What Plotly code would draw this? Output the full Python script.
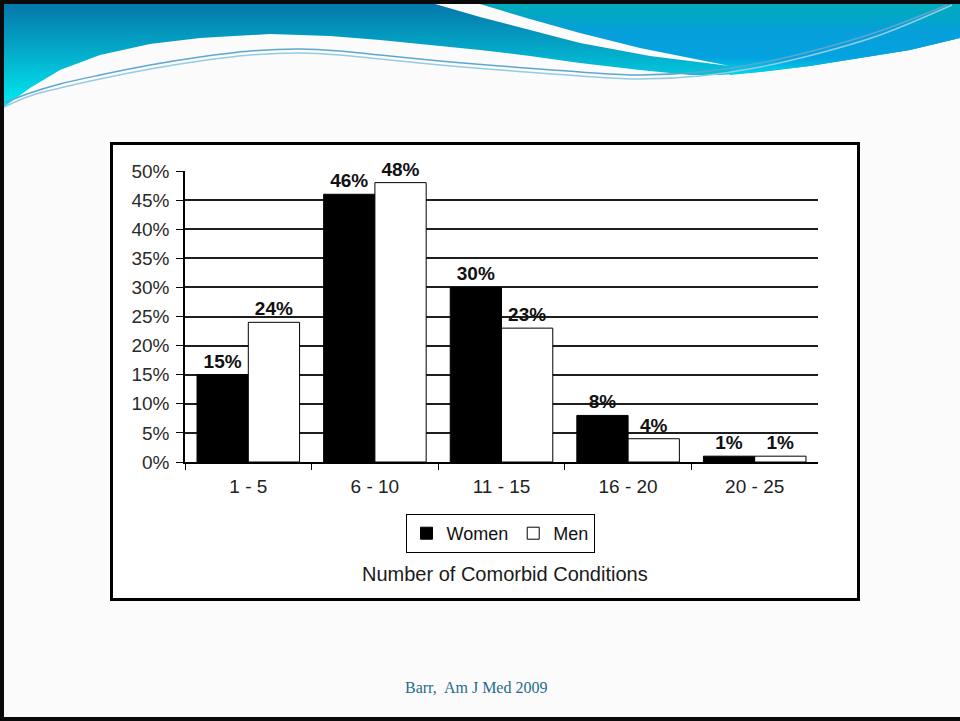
import plotly.graph_objects as go

# ---- data ----
categories = ["1 - 5", "6 - 10", "11 - 15", "16 - 20", "20 - 25"]
women = [15, 46, 30, 8, 1]
men = [24, 48, 23, 4, 1]
y_ticks = [0, 5, 10, 15, 20, 25, 30, 35, 40, 45, 50]
y_tick_text = [f"{v}%" for v in y_ticks]

W, H = 960, 721
FONT = "Liberation Sans, Arial, sans-serif"


def px(x):
    return x / W


def py(y):
    return 1 - y / H


fig = go.Figure()

# ---- bars ----
for name, vals, fill in (("Women", women, "#000000"), ("Men", men, "#ffffff")):
    fig.add_trace(go.Bar(
        name=name, x=categories, y=vals,
        marker=dict(color=fill, line=dict(color="#000000", width=1)),
        text=[f"{v}%" for v in vals], textposition="outside", cliponaxis=False,
        textfont=dict(family=FONT, size=19, color="#111111", weight="bold"),
        constraintext="none",
    ))

# ---- slide banner (drawn on a hidden full-page pixel axis) ----
bottom_curve = [(960, 38), (910, 50), (860, 58), (810, 66), (760, 72), (720, 75),
                (690, 75), (640, 70), (580, 63), (530, 56), (480, 50), (430, 45),
                (380, 40), (330, 36), (270, 34), (200, 38), (150, 44), (100, 55),
                (60, 70), (30, 88), (4, 107)]
banner = [(4, 4), (960, 4)] + bottom_curve
fig.add_trace(go.Scatter(
    x=[p[0] for p in banner], y=[p[1] for p in banner],
    xaxis="x2", yaxis="y2", mode="lines", fill="toself", line=dict(width=0),
    fillgradient=dict(type="vertical", start=4, stop=107,
                      colorscale=[[0, "#0577aa"], [0.45, "#03a9c9"], [1, "#00ecf2"]]),
    hoverinfo="skip", showlegend=False,
))

right_band = [(480, 4), (530, 19), (580, 33), (640, 48), (700, 60), (730, 66),
              (730, 75), (760, 72), (810, 66), (860, 58), (910, 50), (960, 38), (960, 4)]
fig.add_trace(go.Scatter(
    x=[p[0] for p in right_band], y=[p[1] for p in right_band],
    xaxis="x2", yaxis="y2", mode="lines", fill="toself", line=dict(width=0),
    fillgradient=dict(type="vertical", start=4, stop=76,
                      colorscale=[[0, "#00abb8"], [0.4, "#069fdc"], [0.75, "#03a3e0"],
                                  [1, "#00dbe8"]]),
    hoverinfo="skip", showlegend=False,
))

stripe = [(435, 4), (480, 17), (530, 30), (580, 43), (650, 56), (730, 66),
          (700, 60), (640, 48), (580, 33), (530, 19), (480, 4)]
fig.add_trace(go.Scatter(
    x=[p[0] for p in stripe], y=[p[1] for p in stripe],
    xaxis="x2", yaxis="y2", mode="lines", fill="toself", fillcolor="#fbfbfb",
    line=dict(width=0), hoverinfo="skip", showlegend=False,
))

swoosh_upper = [(4, 103), (30, 93), (60, 84), (100, 75), (150, 65), (200, 57), (250, 51),
                (300, 49), (340, 51), (380, 55), (440, 61), (500, 66), (580, 72), (640, 75),
                (700, 72), (760, 63), (820, 49), (880, 31), (947, 5)]
swoosh_lower = [(4, 107), (30, 96), (60, 88), (100, 79), (150, 69), (200, 61), (250, 55),
                (300, 53), (340, 55), (380, 59), (440, 65), (500, 70), (580, 76), (640, 79),
                (700, 76), (760, 67), (820, 53), (880, 35), (952, 5)]
for pts, col in ((swoosh_upper, "#5fa6cf"), (swoosh_lower, "#95cbe3")):
    fig.add_trace(go.Scatter(
        x=[p[0] for p in pts], y=[p[1] for p in pts],
        xaxis="x2", yaxis="y2", mode="lines", line=dict(color=col, width=1.4, shape="spline"),
        hoverinfo="skip", showlegend=False,
    ))

# ---- shapes: slide border and chart frame ----
shapes = [
    dict(type="rect", xref="paper", yref="paper", x0=px(0), x1=px(960), y0=py(0), y1=py(4),
         fillcolor="#0a0a0a", line=dict(width=0), layer="above"),
    dict(type="rect", xref="paper", yref="paper", x0=px(0), x1=px(4), y0=py(0), y1=py(721),
         fillcolor="#0a0a0a", line=dict(width=0), layer="above"),
    dict(type="rect", xref="paper", yref="paper", x0=px(0), x1=px(960), y0=py(717), y1=py(721),
         fillcolor="#0a0a0a", line=dict(width=0), layer="above"),
    dict(type="rect", xref="paper", yref="paper", x0=px(111.5), x1=px(858.5), y0=py(143.5),
         y1=py(599.5), fillcolor="#ffffff", line=dict(color="#000000", width=3), layer="below"),
]

annotations = [
    dict(text="Number of Comorbid Conditions", xref="paper", yref="paper",
         x=px(505), y=py(574), xanchor="center", yanchor="middle", showarrow=False,
         font=dict(family=FONT, size=20, color="#1a1a1a")),
    dict(text="Barr,\u00a0 Am J Med 2009", xref="paper", yref="paper",
         x=px(476), y=py(687), xanchor="center", yanchor="middle", showarrow=False,
         font=dict(family="Liberation Serif, serif", size=16, color="#1f6c8a")),
]

fig.update_layout(
    width=W, height=H, autosize=False,
    margin=dict(l=0, r=0, t=0, b=0, pad=0, autoexpand=False),
    paper_bgcolor="#fbfbfb", plot_bgcolor="rgba(0,0,0,0)",
    barmode="group", bargap=0.19, bargroupgap=0,
    font=dict(family=FONT, color="#222222"),
    xaxis=dict(
        domain=[px(185), px(818)], anchor="y", automargin=False,
        showgrid=False, showline=True, linecolor="#000000", linewidth=1.5,
        ticks="outside", tickson="boundaries", ticklen=6, tickcolor="#000000", tickwidth=1.2,
        tickfont=dict(family=FONT, size=19, color="#222222"), ticklabelstandoff=6,
        zeroline=False,
    ),
    yaxis=dict(
        domain=[py(462), py(171)], anchor="x", range=[0, 50], automargin=False,
        tickvals=y_ticks, ticktext=y_tick_text,
        showgrid=True, gridcolor="#1e1e1e", gridwidth=1.5,
        showline=True, linecolor="#000000", linewidth=1.5,
        ticks="outside", ticklen=7, tickcolor="#000000", tickwidth=1.2,
        tickfont=dict(family=FONT, size=19, color="#2a2a2a"), ticklabelstandoff=3,
        zeroline=False,
    ),
    xaxis2=dict(domain=[0, 1], range=[0, W], anchor="y2", visible=False, fixedrange=True,
                automargin=False),
    yaxis2=dict(domain=[0, 1], range=[H, 0], anchor="x2", visible=False, fixedrange=True,
                automargin=False),
    legend=dict(
        orientation="h", x=px(500), xanchor="center", y=py(533.5), yanchor="middle",
        bgcolor="#ffffff", bordercolor="#000000", borderwidth=1,
        font=dict(family=FONT, size=18, color="#111111"),
        itemwidth=30, tracegroupgap=0,
    ),
    shapes=shapes,
    annotations=annotations,
    showlegend=True,
)

fig.write_html("out.html")
